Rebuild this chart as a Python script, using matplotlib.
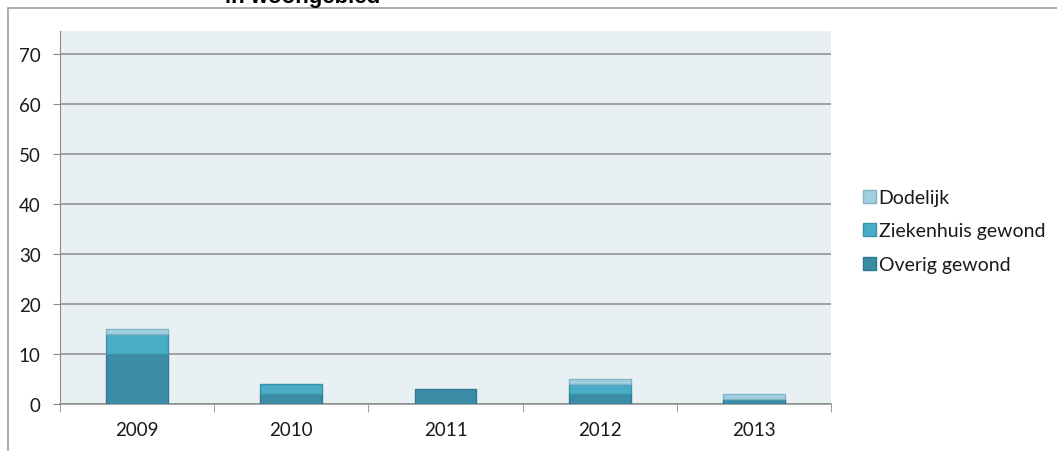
import matplotlib
matplotlib.use("Agg")
import matplotlib.pyplot as plt
import matplotlib.patches as mpatches
import numpy as np

years = ["2009", "2010", "2011", "2012", "2013"]
overig = [10, 2, 3, 2, 1]
ziekenhuis = [4, 2, 0, 2, 0]
dodelijk = [1, 0, 0, 1, 1]
series_names = ["Overig gewond", "Ziekenhuis gewond", "Dodelijk"]
y_ticks = [0, 10, 20, 30, 40, 50, 60, 70]
title = "in woongebied"

W, H = 1057, 452
fig = plt.figure(figsize=(W / 100, H / 100), dpi=100)
fig.patch.set_facecolor("white")

# outer chart border
fig.add_artist(mpatches.Rectangle((8 / W, -0.1), 1.2, 1 - 9 / H + 0.1, transform=fig.transFigure,
                                  fill=False, edgecolor="#a0a0a0", linewidth=1.2))

fig.text(303 / W, 1 - 3 / H, title, ha="center", va="baseline", fontsize=16,
         fontweight="bold", family="Liberation Sans", color="black")

left, right, top, bottom = 60, 831, 32, 405
ax = fig.add_axes([left / W, 1 - bottom / H, (right - left) / W, (bottom - top) / H])
ax.set_facecolor("#e8f0f4")

x = np.arange(len(years))
w = 0.4
c_ov, c_zk, c_dd = "#3b8ca6", "#4aadc7", "#a3d0e1"
e_ov, e_zk, e_dd = "#2f7a92", "#3a93ab", "#7fb3c6"
ov = np.array(overig); zk = np.array(ziekenhuis); dd = np.array(dodelijk)

for xi, a, b, c in zip(x, ov, zk, dd):
    if a > 0:
        ax.bar(xi, a, w, color=c_ov, edgecolor=e_ov, linewidth=1, zorder=3)
    if b > 0:
        ax.bar(xi, b, w, bottom=a, color=c_zk, edgecolor=e_zk, linewidth=1, zorder=3)
    if c > 0:
        ax.bar(xi, c, w, bottom=a + b, color=c_dd, edgecolor=e_dd, linewidth=1, zorder=3)

ax.set_xlim(-0.5, len(years) - 0.5)
ax.set_ylim(0, 74.6)
ax.set_yticks(y_ticks)
ax.set_yticklabels([str(v) for v in y_ticks], family="Lato", fontsize=13.5, color="#1a1a1a")
ax.yaxis.grid(True, color="#8c8c8c", linewidth=1.1, zorder=1)
ax.set_axisbelow(True)
ax.set_xticks(x)
ax.set_xticklabels(years, family="Lato", fontsize=13.5, color="#1a1a1a")
ax.set_xticks(np.arange(-0.5, len(years)), minor=True)
ax.tick_params(axis="x", which="major", length=0, pad=12)
ax.tick_params(axis="x", which="minor", length=6, color="#8c8c8c", direction="out")
ax.tick_params(axis="y", length=5, color="#8c8c8c", pad=9)
for s in ["top", "right"]:
    ax.spines[s].set_visible(False)
ax.spines["left"].set_color("#8c8c8c")
ax.spines["bottom"].set_color("#8c8c8c")
ax.spines["bottom"].set_linewidth(1.1)

handles = [mpatches.Patch(facecolor=c_dd, edgecolor=e_dd, label=series_names[2]),
           mpatches.Patch(facecolor=c_zk, edgecolor=e_zk, label=series_names[1]),
           mpatches.Patch(facecolor=c_ov, edgecolor=e_ov, label=series_names[0])]
fig.legend(handles=handles, loc="center left", bbox_to_anchor=(863 / W, 1 - 232 / H),
           frameon=False, prop={"family": "Lato", "size": 14}, handlelength=0.65,
           handleheight=0.65, handletextpad=0.15, labelspacing=0.85,
           borderpad=0, borderaxespad=0, labelcolor="#1a1a1a")

fig.savefig("out.png", dpi=100)
